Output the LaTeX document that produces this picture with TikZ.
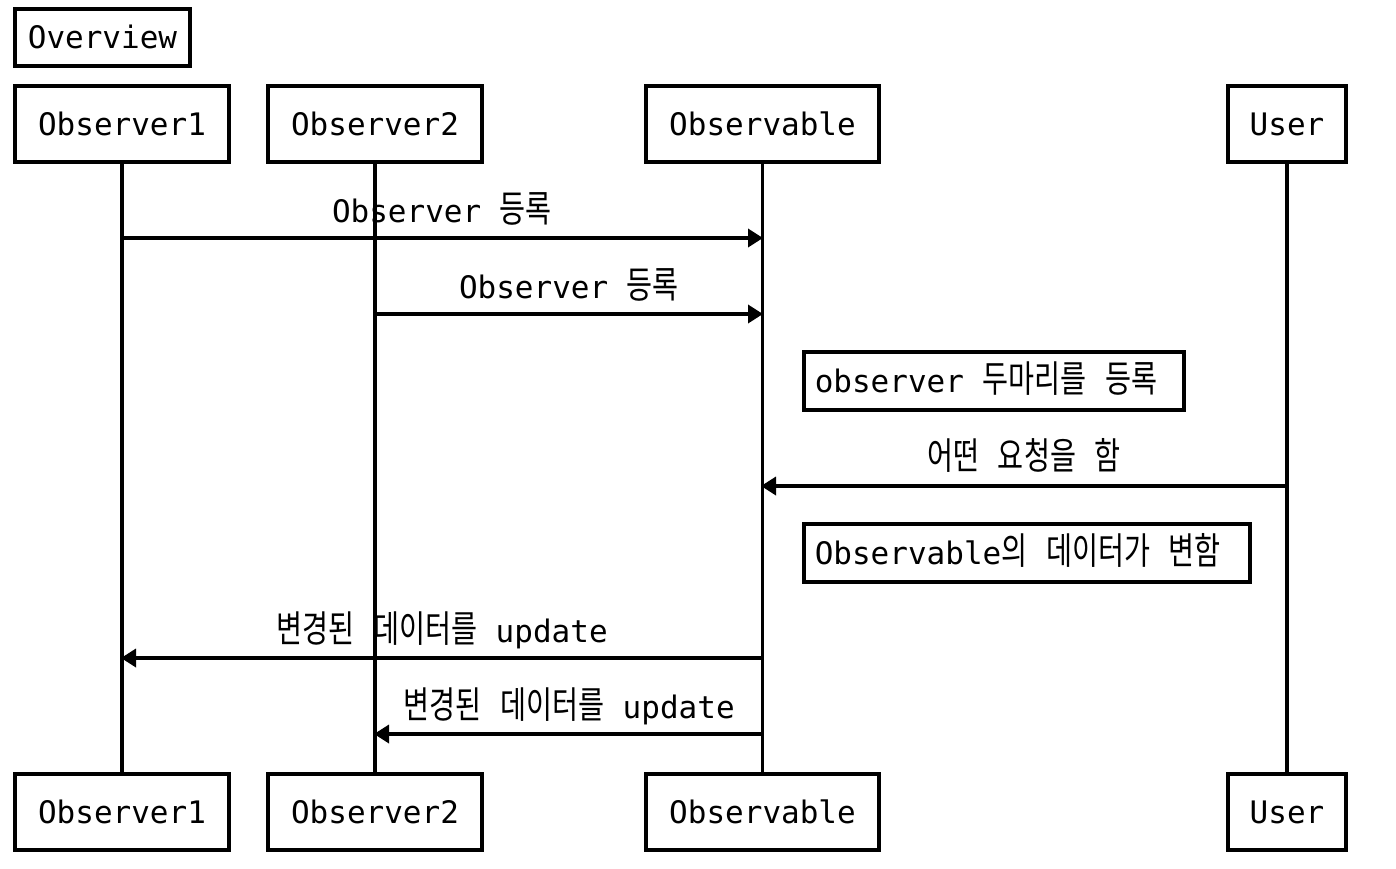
\documentclass[tikz,border=0pt]{standalone}
\usepackage{fontspec}
\setmainfont{DejaVu Sans Mono}
\newfontfamily\kr{Noto Sans CJK KR}[Scale=1.2, FakeStretch=0.76]
\usetikzlibrary{arrows.meta}
\tikzset{
  lw/.style={line width=3.5pt},
  participant/.style={draw, lw, minimum height=76pt, inner sep=0pt, text height=22.5pt, text depth=0pt},
  notebox/.style={draw, lw, minimum height=58pt, inner xsep=11pt, inner ysep=0pt, anchor=west, text height=22.5pt, text depth=0pt},
  lifeline/.style={lw},
  msg/.style={lw, -{Triangle[length=15pt,width=18pt]}, shorten >=-1pt},
  msglabel/.style={anchor=base, inner sep=0pt}
}
\begin{document}
\begin{tikzpicture}[x=1pt,y=-1pt, font=\fontsize{31}{36}\selectfont]
\useasboundingbox (0,0) rectangle (1396,868);
% title
\node[draw, lw, minimum width=175pt, minimum height=57pt, inner sep=0pt, text height=22.5pt, text depth=0pt] (title) at (102.5,37.5) {Overview};
% participants top
\node[participant, minimum width=214pt] (o1t) at (122,124) {Observer1};
\node[participant, minimum width=214pt] (o2t) at (375,124) {Observer2};
\node[participant, minimum width=233pt] (obt) at (762.5,124) {Observable};
\node[participant, minimum width=118pt] (ust) at (1287,124) {User};
% participants bottom
\node[participant, minimum width=214pt] (o1b) at (122,812) {Observer1};
\node[participant, minimum width=214pt] (o2b) at (375,812) {Observer2};
\node[participant, minimum width=233pt] (obb) at (762.5,812) {Observable};
\node[participant, minimum width=118pt] (usb) at (1287,812) {User};
% lifelines
\draw[lifeline] (o1t.south) -- (o1b.north);
\draw[lifeline] (o2t.south) -- (o2b.north);
\draw[lifeline] (obt.south) -- (obb.north);
\draw[lifeline] (ust.south) -- (usb.north);
% message anchor coordinates
\coordinate (m1a) at (122,238);  \coordinate (m1b) at (762,238);
\coordinate (m2a) at (375,314);  \coordinate (m2b) at (762,314);
\coordinate (m3a) at (1287,486); \coordinate (m3b) at (762,486);
\coordinate (m4a) at (762,658);  \coordinate (m4b) at (122,658);
\coordinate (m5a) at (762,734);  \coordinate (m5b) at (375,734);
% messages
\draw[msg] (m1a) -- (m1b);
\node[msglabel] (l1) at (442,222) {Observer {\kr 등록}};
\draw[msg] (m2a) -- (m2b);
\node[msglabel] (l2) at (569,298) {Observer {\kr 등록}};
% note 1
\node[notebox] (n1) at (802,381) {\makebox[358pt][l]{observer {\kr 두마리를} {\kr 등록}}};
\draw[msg] (m3a) -- (m3b);
\node[msglabel] (l3) at (1024,469) {{\kr 어떤} {\kr 요청을} {\kr 함}};
% note 2
\node[notebox] (n2) at (802,553) {\makebox[424pt][l]{Observable{\kr 의} {\kr 데이터가} {\kr 변함}}};
\draw[msg] (m4a) -- (m4b);
\node[msglabel] (l4) at (442,642) {{\kr 변경된} {\kr 데이터를} update};
\draw[msg] (m5a) -- (m5b);
\node[msglabel] (l5) at (569,718) {{\kr 변경된} {\kr 데이터를} update};
\end{tikzpicture}
\end{document}
